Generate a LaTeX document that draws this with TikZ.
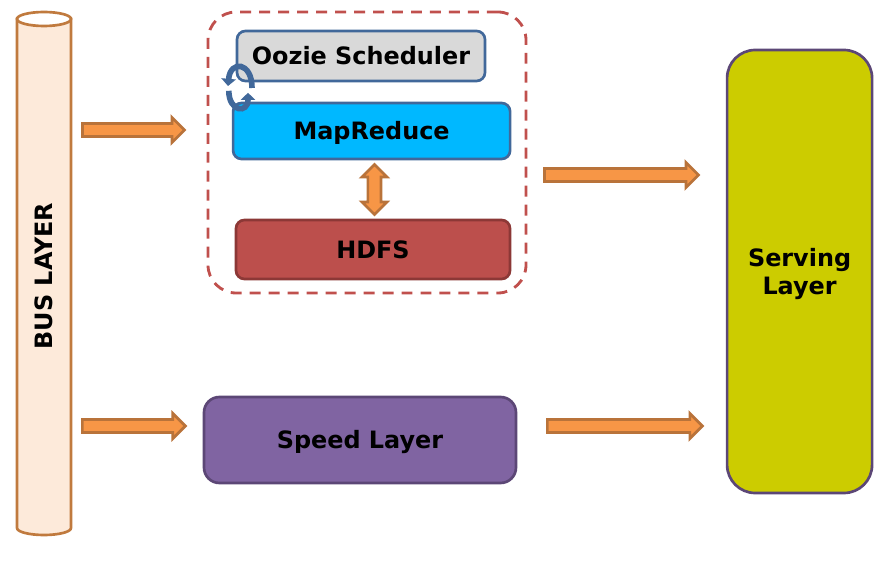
\documentclass[tikz,border=0pt]{standalone}
\usepackage{fontspec}
\setmainfont{DejaVu Sans}
\usetikzlibrary{arrows.meta,shapes.arrows}
\definecolor{ink}{HTML}{000000}
\definecolor{cBus}{HTML}{FDEADA}
\definecolor{cBusLine}{HTML}{C07A3E}
\definecolor{cArrow}{HTML}{F79646}
\definecolor{cArrowLine}{HTML}{B9733A}
\definecolor{cOozie}{HTML}{D9D9D9}
\definecolor{cBlueLine}{HTML}{41689A}
\definecolor{cMap}{HTML}{00B8FF}
\definecolor{cHdfs}{HTML}{BC4F4C}
\definecolor{cHdfsLine}{HTML}{8C3836}
\definecolor{cSpeed}{HTML}{8064A2}
\definecolor{cSpeedLine}{HTML}{5C4776}
\definecolor{cServe}{HTML}{CCCC00}
\definecolor{cDash}{HTML}{C0504D}
\tikzset{
  blk/.style   = {align=center, font=\fontsize{17}{20}\selectfont\bfseries,
                  text=ink, line width=1.9pt, inner sep=0pt, text depth=0pt},
  oozie/.style = {blk, fill=cOozie, draw=cBlueLine, rounded corners=6pt, text height=0.44cm},
  mapr/.style  = {blk, fill=cMap, draw=cBlueLine, rounded corners=6pt, text height=0.44cm},
  hdfs/.style  = {blk, fill=cHdfs, draw=cHdfsLine, rounded corners=6pt, text height=0.44cm},
  speed/.style = {blk, fill=cSpeed, draw=cSpeedLine, rounded corners=11pt, text height=0.44cm},
  serve/.style = {blk, fill=cServe, draw=cSpeedLine, rounded corners=20pt},
  group/.style = {rounded corners=20pt, draw=cDash, line width=2pt, dash pattern=on 7.8pt off 5.7pt},
  bus/.style   = {line width=1.9pt, draw=cBusLine, fill=cBus},
  busend/.style = {line width=1.9pt, draw=cBusLine, fill=white},
  fat/.style   = {single arrow, single arrow head extend=0.15cm, inner xsep=0pt, inner ysep=0.13cm,
                  minimum width=0.58cm, fill=cArrow, draw=cArrowLine, line width=1.9pt},
  fatboth/.style = {double arrow, double arrow head extend=0.15cm, inner xsep=0pt, inner ysep=0.13cm,
                  minimum width=0.58cm, fill=cArrow, draw=cArrowLine, line width=1.9pt},
  swirl/.style = {-{Triangle[length=1.8mm,width=3.6mm]}, line width=4pt, draw=cBlueLine},
}
\begin{document}
\begin{tikzpicture}
  \useasboundingbox (0,0) rectangle (22.3,14.25);
  \draw[bus] (0.425,13.775) -- (0.425,1.05) arc[start angle=180, end angle=360, x radius=0.675, y radius=0.175]
     -- (1.775,13.775) -- cycle;
  \draw[busend] (1.1,13.775) ellipse[x radius=0.675, y radius=0.175];
  \node[blk, rotate=90] (bust) at (1.1,7.35) {BUS LAYER};

  \node[group, minimum width=7.95cm, minimum height=7.025cm] (batch) at (9.175,10.4375) {};
  \node[oozie, minimum width=6.2cm, minimum height=1.25cm] (oz) at (9.025,12.85) {Oozie Scheduler};
  \node[mapr, minimum width=6.925cm, minimum height=1.4cm] (mr) at (9.29,10.975) {MapReduce};
  \node[hdfs, minimum width=6.85cm, minimum height=1.475cm] (hd) at (9.325,8.0125) {HDFS};
  \node[speed, minimum width=7.8cm, minimum height=2.15cm] (sp) at (9,3.25) {Speed Layer};
  \node[serve, minimum width=3.625cm, minimum height=11.075cm] (sv) at (19.99,7.4625) {Serving\\ Layer};

  \node[fat, minimum height=2.55cm] (a1) at (3.255,11) {};
  \node[fat, minimum height=2.575cm] (a2) at (3.265,3.6) {};
  \node[fat, minimum height=3.85cm] (a3) at (15.455,9.875) {};
  \node[fat, minimum height=3.875cm] (a4) at (15.54,3.6) {};
  \node[fatboth, rotate=90, minimum height=1.25cm] (a5) at (9.36,9.5125) {};

  \coordinate (lr) at (6.3,12.05);
  \coordinate (ll) at (5.7,12.1);
  \coordinate (ls) at (5.72,11.98);
  \coordinate (le) at (6.2,11.93);
  \draw[swirl] (lr) to[out=90, in=85, looseness=2.8] (ll);
  \draw[swirl] (ls) to[out=-90, in=-90, looseness=2.8] (le);
\end{tikzpicture}
\end{document}
